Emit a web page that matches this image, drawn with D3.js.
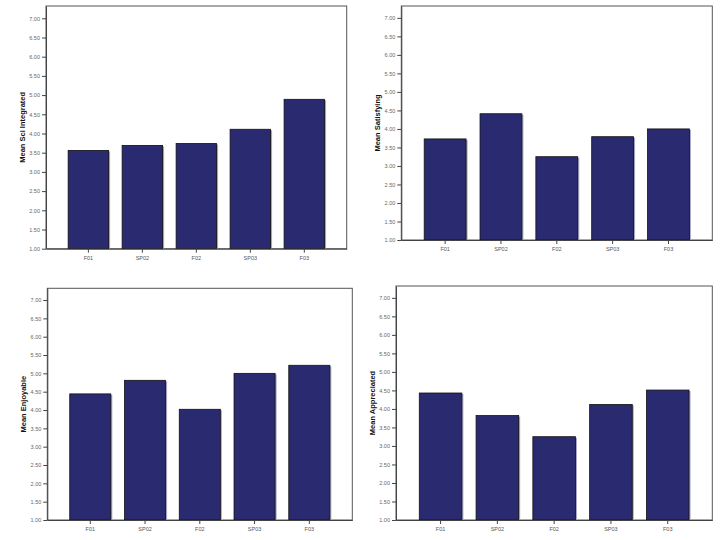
<!DOCTYPE html>
<html>
<head>
<meta charset="utf-8">
<script src="https://cdn.jsdelivr.net/npm/d3@7"></script>
<style>
  body { margin: 0; background: #fff; }
  svg { display: block; }
</style>
</head>
<body>
<div id="chart"></div>
<script>
// categories shared by all four panels
var terms = ["F01", "SP02", "F02", "SP03", "F03"];
var yTicks = [1, 1.5, 2, 2.5, 3, 3.5, 4, 4.5, 5, 5.5, 6, 6.5, 7];

// mean values
var sciIntegrated = [3.56, 3.69, 3.74, 4.11, 4.89];
var satisfying    = [3.73, 4.41, 3.25, 3.79, 4.00];
var enjoyable     = [4.44, 4.81, 4.02, 5.00, 5.22];
var appreciated   = [4.43, 3.82, 3.25, 4.12, 4.51];

var panels = [
  {label: "Mean Sci Integrated", values: sciIntegrated, box: [46, 6, 346.7, 248.7]},
  {label: "Mean Satisfying",     values: satisfying,    box: [401.3, 6, 712.3, 240]},
  {label: "Mean Enjoyable",      values: enjoyable,     box: [47.3, 288.3, 352.3, 520]},
  {label: "Mean Appreciated",    values: appreciated,   box: [396, 286, 712.3, 520]}
];

var width = 720, height = 540;
var barColor = "#2a2a70";

var svg = d3.select("#chart")
  .append("svg")
  .attr("width", width)
  .attr("height", height);

panels.forEach(function(p) {
  var x0 = p.box[0], y0 = p.box[1], x1 = p.box[2], y1 = p.box[3];

  var x = d3.scaleBand()
    .domain(terms)
    .range([x0, x1])
    .paddingInner(0.25)
    .paddingOuter(0.41);

  var y = d3.scaleLinear()
    .domain([1, 7.32])
    .range([y1, y0]);

  var g = svg.append("g");

  // frame
  g.append("rect")
    .attr("x", x0).attr("y", y0)
    .attr("width", x1 - x0).attr("height", y1 - y0)
    .attr("fill", "none")
    .attr("stroke", "#555")
    .attr("stroke-width", 1);

  var data = terms.map(function(t, i) { return {term: t, value: p.values[i]}; });

  // faint shadow on the right edge of each bar
  g.selectAll("rect.shadow")
    .data(data)
    .enter().append("rect")
    .attr("class", "shadow")
    .attr("x", function(d) { return x(d.term) + 1.5; })
    .attr("y", function(d) { return y(d.value) + 1; })
    .attr("width", x.bandwidth())
    .attr("height", function(d) { return y1 - y(d.value) - 1; })
    .attr("fill", "#a4a4c0");

  g.selectAll("rect.bar")
    .data(data)
    .enter().append("rect")
    .attr("class", "bar")
    .attr("x", function(d) { return x(d.term); })
    .attr("y", function(d) { return y(d.value); })
    .attr("width", x.bandwidth())
    .attr("height", function(d) { return y1 - y(d.value); })
    .attr("fill", barColor)
    .attr("stroke", "#111")
    .attr("stroke-width", 0.8);

  // y axis
  var yAxis = g.append("g")
    .attr("transform", "translate(" + x0 + ",0)")
    .call(d3.axisLeft(y).tickValues(yTicks).tickFormat(d3.format(".2f"))
      .tickSize(4).tickSizeOuter(0).tickPadding(2));
  yAxis.select(".domain").attr("stroke", "#444");
  yAxis.selectAll(".tick line").attr("stroke", "#444");
  yAxis.selectAll("text")
    .style("font-family", "Liberation Sans, Arial, sans-serif")
    .style("font-size", "5.5px")
    .attr("fill", "#666");

  // x axis
  var xAxis = g.append("g")
    .attr("transform", "translate(0," + y1 + ")")
    .call(d3.axisBottom(x).tickSize(4).tickSizeOuter(0).tickPadding(3));
  xAxis.select(".domain").attr("stroke", "#444");
  xAxis.selectAll(".tick line").attr("stroke", "#444");
  xAxis.selectAll("text")
    .style("font-family", "Liberation Sans, Arial, sans-serif")
    .style("font-size", "5.5px")
    .attr("fill", "#555");

  // axis title
  g.append("text")
    .attr("transform", "translate(" + (x0 - 21) + "," + ((y0 + y1) / 2) + ") rotate(-90)")
    .attr("text-anchor", "middle")
    .style("font-family", "Liberation Sans, Arial, sans-serif")
    .style("font-size", "7.5px")
    .style("font-weight", "bold")
    .attr("fill", "#111")
    .text(p.label);
});
</script>
</body>
</html>
